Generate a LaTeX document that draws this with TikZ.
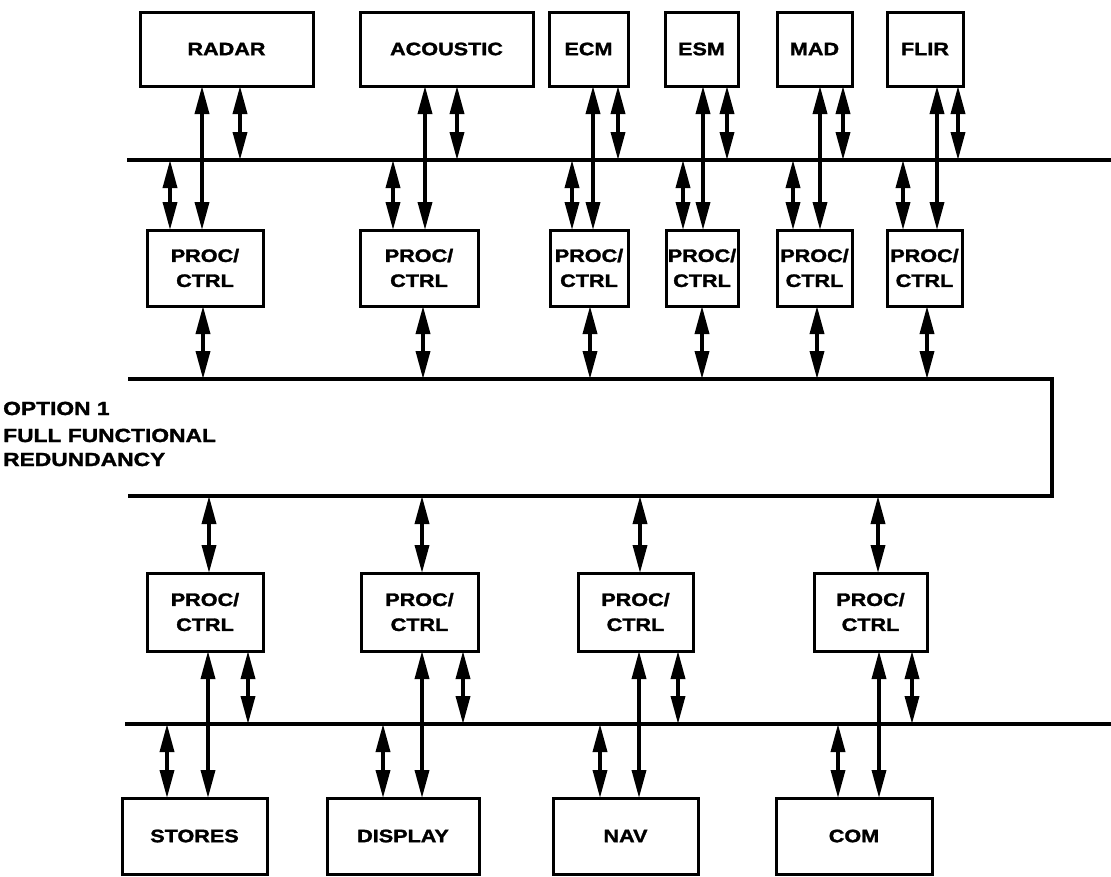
\documentclass[tikz,border=0pt]{standalone}
\usepackage{fontspec}
\setmainfont{Liberation Sans}[FakeStretch=1.2, FakeBold=1.6]
\usetikzlibrary{arrows.meta}
\begin{document}
\begin{tikzpicture}[x=1pt,y=-1pt,
  box/.style={draw, line width=3pt, inner sep=0pt, outer sep=0pt, align=center,
    font=\fontsize{18}{25}\selectfont\bfseries},
  bus/.style={line width=4pt},
  dbl/.style={line width=3.5pt, {Triangle[length=28pt,width=14pt]}-{Triangle[length=28pt,width=14pt]}},
  lbl/.style={inner sep=0pt, font=\fontsize{19}{25}\selectfont\bfseries}]
\useasboundingbox (0,0) rectangle (1111,876);

% top sensor boxes
\node[box, minimum width=173pt, minimum height=74pt] (radar) at (226.5,49) {RADAR};
\node[box, minimum width=173pt, minimum height=74pt] (acoustic) at (446.5,49) {ACOUSTIC};
\node[box, minimum width=79pt, minimum height=74pt] (ecm) at (588.5,49) {ECM};
\node[box, minimum width=73pt, minimum height=74pt] (esm) at (701.5,49) {ESM};
\node[box, minimum width=75pt, minimum height=74pt] (mad) at (814.5,49) {MAD};
\node[box, minimum width=76pt, minimum height=74pt] (flir) at (925,49) {FLIR};

% top processors
\node[box, minimum width=116pt, minimum height=76pt] (rp) at (205,268) {PROC/\\CTRL};
\node[box, minimum width=118pt, minimum height=76pt] (ap) at (419,268) {PROC/\\CTRL};
\node[box, minimum width=78pt, minimum height=76pt] (ep) at (589,268) {PROC/\\CTRL};
\node[box, minimum width=72pt, minimum height=76pt] (sp) at (702,268) {PROC/\\CTRL};
\node[box, minimum width=75pt, minimum height=76pt] (mp) at (814.5,268) {PROC/\\CTRL};
\node[box, minimum width=75pt, minimum height=76pt] (fp) at (924.5,268) {PROC/\\CTRL};

% bottom processors
\node[box, minimum width=116pt, minimum height=78pt] (stp) at (205,612) {PROC/\\CTRL};
\node[box, minimum width=117pt, minimum height=78pt] (dp) at (419.5,612) {PROC/\\CTRL};
\node[box, minimum width=115pt, minimum height=78pt] (np) at (635.5,612) {PROC/\\CTRL};
\node[box, minimum width=113pt, minimum height=78pt] (cp) at (870.5,612) {PROC/\\CTRL};

% bottom subsystem boxes
\node[box, minimum width=145pt, minimum height=76pt] (stores) at (194.5,836) {STORES};
\node[box, minimum width=152pt, minimum height=76pt] (display) at (403,836) {DISPLAY};
\node[box, minimum width=145pt, minimum height=76pt] (nav) at (625.5,836) {NAV};
\node[box, minimum width=156pt, minimum height=76pt] (com) at (854,836) {COM};

% buses
\coordinate (b1L) at (127,160);
\coordinate (b1R) at (1111,160);
\coordinate (b2L) at (125,724);
\coordinate (b2R) at (1111,724);
\draw[bus] (b1L) -- (b1R);
\draw[bus] (b2L) -- (b2R);

% central bus box (open on the left)
\coordinate (cTL) at (128,379);
\coordinate (cTR) at (1052,379);
\coordinate (cBR) at (1052,496);
\coordinate (cBL) at (128,496);
\draw[bus, line join=miter] (cTL) -- (cTR) -- (cBR) -- (cBL);

% labels
\node[lbl, anchor=base west] (opt) at (3,415) {OPTION 1};
\node[lbl, anchor=base west] (full) at (3,442) {FULL FUNCTIONAL};
\node[lbl, anchor=base west] (redun) at (3,466) {REDUNDANCY};

% top connectors
\foreach \bx/\px/\lx/\sx/\dx/\cx in {radar/rp/202/240/170/203, acoustic/ap/425/457/393/423,
  ecm/ep/593/618/572/590, esm/sp/703/727/683/702, mad/mp/820/843/793/817, flir/fp/937/958/903/927}{
  \draw[dbl] (\lx,0 |- \bx.south) -- (\lx,0 |- \px.north);
  \draw[dbl] (\sx,0 |- \bx.south) -- (\sx,0 |- b1L);
  \draw[dbl] (\dx,0 |- b1L) -- (\dx,0 |- \px.north);
  \draw[dbl] (\cx,0 |- \px.south) -- (\cx,0 |- cTL);
}

% bottom connectors
\foreach \px/\bx/\cx/\lx/\sx/\dx in {stp/stores/209/208/248/167, dp/display/422/422/463/383,
  np/nav/640/639/678/600, cp/com/878/879/912/838}{
  \draw[dbl] (\cx,0 |- cBL) -- (\cx,0 |- \px.north);
  \draw[dbl] (\lx,0 |- \px.south) -- (\lx,0 |- \bx.north);
  \draw[dbl] (\sx,0 |- \px.south) -- (\sx,0 |- b2L);
  \draw[dbl] (\dx,0 |- b2L) -- (\dx,0 |- \bx.north);
}
\end{tikzpicture}
\end{document}
